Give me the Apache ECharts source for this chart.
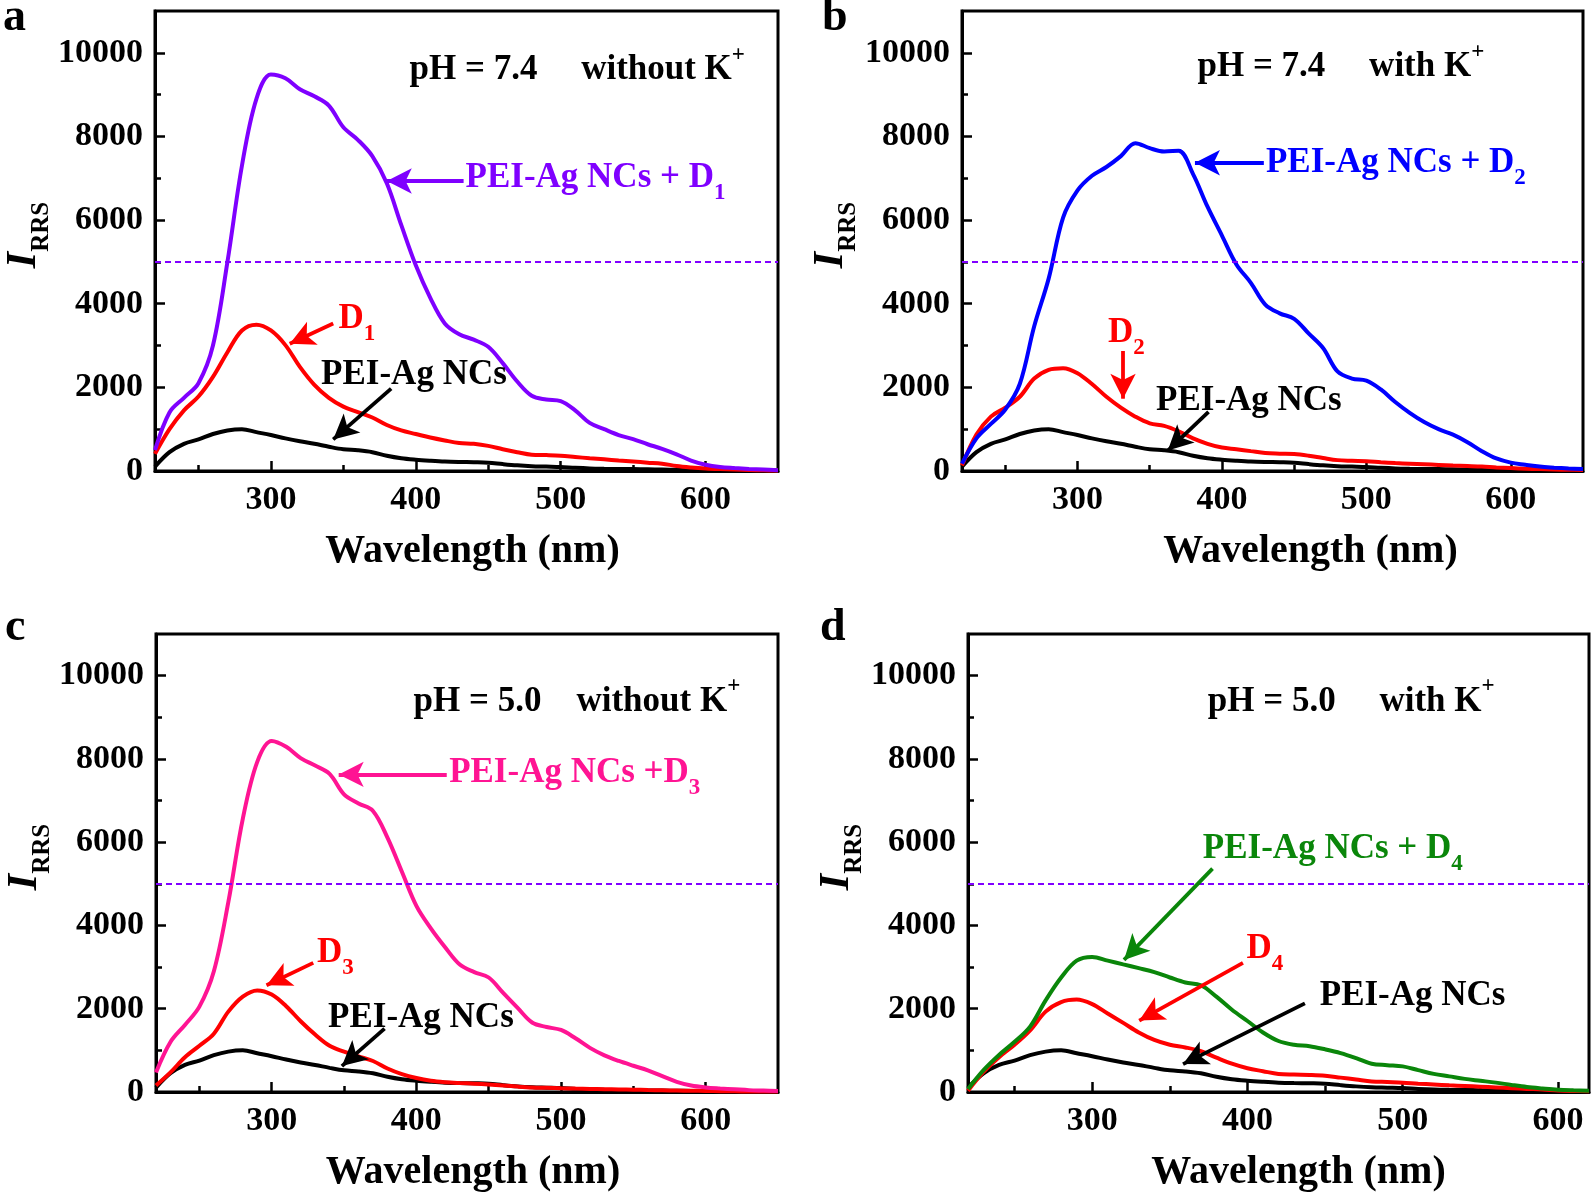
<!DOCTYPE html>
<html><head><meta charset="utf-8">
<script src="https://cdn.jsdelivr.net/npm/echarts@6/dist/echarts.min.js"></script>
<style>html,body{margin:0;padding:0;background:#fff}#c{width:1595px;height:1194px}</style>
</head><body><div id="c"></div>
<script>
// ---------------- DATA ----------------
const wavelength = [220,230,240,250,260,270,280,290,300,310,320,330,340,350,360,370,380,390,400,410,420,430,440,450,460,470,480,490,500,510,520,530,540,550,560,570,580,590,600,610,620,630,640,650];
const wavelengthD = [220,230,240,250,260,270,280,290,300,310,320,330,340,350,360,370,380,390,400,410,420,430,440,450,460,470,480,490,500,510,520,530,540,550,560,570,580,590,600,610,620];

// PEI-Ag NCs alone (black)
const peiAg = [105,450,650,755,885,970,1000,930,860,780,710,650,580,520,495,450,365,305,270,245,225,215,210,200,165,135,115,105,95,75,60,52,47,45,40,35,30,25,20,17,14,12,11,10];
// panel a
const peiD1 = [500,1400,1750,2100,3000,5000,7300,8900,9480,9390,9130,8960,8740,8220,7920,7530,6880,5880,4920,4140,3530,3270,3140,2970,2580,2140,1800,1710,1670,1450,1150,1000,860,760,640,530,400,250,150,95,70,50,35,20];
const d1 = [410,1000,1450,1780,2250,2840,3360,3500,3360,3010,2490,2060,1750,1540,1410,1280,1100,970,885,800,730,670,650,600,520,450,390,380,365,335,305,280,250,225,200,175,120,85,60,45,35,25,15,10];
// panel b
const peiD2 = [175,780,1125,1470,2080,3460,4600,6060,6710,7060,7270,7530,7840,7720,7640,7660,7100,6320,5630,4940,4500,3980,3770,3640,3290,2940,2380,2210,2160,1950,1650,1390,1170,1000,870,690,475,300,200,150,105,80,60,45];
const d2 = [130,870,1300,1515,1775,2210,2420,2460,2340,2080,1775,1515,1300,1140,1080,950,780,650,560,520,475,430,415,405,365,310,260,245,235,210,190,175,160,145,130,118,105,85,70,55,45,35,30,25];
// panel c
const peiD3 = [470,1200,1610,2050,2900,4560,6560,7930,8430,8290,8020,7840,7640,7150,6930,6750,6110,5290,4470,3930,3470,3060,2880,2750,2380,2020,1670,1560,1490,1290,1060,880,745,630,520,380,245,155,110,85,65,45,35,25];
const d3 = [155,470,835,1110,1400,1930,2290,2440,2340,2060,1700,1380,1110,970,855,745,565,430,335,270,235,215,200,180,155,130,110,100,90,82,75,68,62,55,48,42,36,30,25,20,16,13,11,10];
// panel d
const peiD4 = [70,525,890,1205,1570,2200,2750,3155,3245,3155,3065,2975,2880,2750,2630,2565,2290,1975,1705,1430,1225,1135,1100,1025,935,815,680,645,615,525,435,375,315,270,225,170,120,85,55,40,30];
const d4 = [30,480,835,1135,1480,1930,2160,2220,2110,1885,1660,1430,1250,1135,1070,980,825,680,570,500,435,420,410,390,345,300,255,240,225,200,180,160,145,128,110,92,75,60,35,25,20];

const xMajorTicks = [300,400,500,600];
const xMinorTicks = [250,350,450,550];
const yMajorTicks = [0,2000,4000,6000,8000,10000];
const yMinorTicks = [1000,3000,5000,7000,9000];
const thresholdValue = 5000;

// ---------------- STYLE ----------------
const FONT = 'Liberation Serif';
const C = {purple:'#7F00FF', red:'#FF0000', black:'#000000', blue:'#0000FF', pink:'#FF1493', green:'#0A860A', dash:'#8000FF'};

const pair = (xs, ys) => xs.map((x, i) => [x, ys[i]]);

const grids = [
  {left:155, top:11, width:623, height:460},
  {left:962, top:11, width:621, height:460},
  {left:156, top:634, width:622, height:460},
  {left:968, top:634, width:621, height:460}
];
const xMax = [650, 650, 650, 620];
const xNameShift = [12, 76, 12, 40];
const yNameGap = [100, 86, 100, 93];

function richFor(color) {
  const base = {fontFamily: FONT, fontWeight: 'bold', color: color};
  return {
    t: Object.assign({}, base, {fontSize: 35, padding: [0,0,9,0], verticalAlign: 'bottom'}),
    sub: Object.assign({}, base, {fontSize: 23, verticalAlign: 'bottom'}),
    h: Object.assign({}, base, {fontSize: 35, padding: [9,0,0,0], verticalAlign: 'bottom'}),
    sup: Object.assign({}, base, {fontSize: 23, verticalAlign: 'top'})
  };
}
function textPt(coord, text, color) {
  return {
    coord: coord,
    symbol: 'circle', symbolSize: 1, itemStyle: {color: 'rgba(0,0,0,0)'},
    label: {
      show: true, position: [0, 0], align: 'left', verticalAlign: 'middle',
      formatter: () => text, rich: richFor(color)
    }
  };
}
function arrow(from, to, color) {
  return [
    {coord: from, symbol: 'none', lineStyle: {color: color, width: 3.8, type: 'solid'}},
    {coord: to, symbol: 'arrow', symbolSize: [19, 25], lineStyle: {color: color, width: 3.8, type: 'solid'}}
  ];
}
const dashedLine = {yAxis: thresholdValue, symbol: 'none', lineStyle: {color: C.dash, width: 2, type: [6, 4]}};

const xAxes = [], yAxes = [];
grids.forEach((g, i) => {
  xAxes.push({
    type: 'value', gridIndex: i, min: 220, max: xMax[i], position: 'bottom',
    axisLine: {show: true, onZero: false, lineStyle: {color: '#000', width: 3}},
    axisTick: {show: true, inside: true, length: 10, customValues: xMajorTicks, lineStyle: {color: '#000', width: 2.5}},
    axisLabel: {show: true, customValues: xMajorTicks, margin: 12, fontFamily: FONT, fontWeight: 'bold', fontSize: 34, color: '#000', formatter: v => String(v)},
    splitLine: {show: false},
    name: 'Wavelength (nm)', nameLocation: 'middle', nameGap: 61,
    nameTextStyle: {fontFamily: FONT, fontWeight: 'bold', fontSize: 40, color: '#000', padding: [0, 0, 0, xNameShift[i]]}
  });
  xAxes.push({
    type: 'value', gridIndex: i, min: 220, max: xMax[i], position: 'bottom',
    axisLine: {show: false},
    axisTick: {show: true, inside: true, length: 6, customValues: xMinorTicks, lineStyle: {color: '#000', width: 2.5}},
    axisLabel: {show: false}, splitLine: {show: false}
  });
  yAxes.push({
    type: 'value', gridIndex: i, min: 0, max: 11000, position: 'left',
    axisLine: {show: true, onZero: false, lineStyle: {color: '#000', width: 3}},
    axisTick: {show: true, inside: true, length: 10, customValues: yMajorTicks, lineStyle: {color: '#000', width: 2.5}},
    axisLabel: {show: true, customValues: yMajorTicks, margin: 12, fontFamily: FONT, fontWeight: 'bold', fontSize: 34, color: '#000', formatter: v => String(v)},
    splitLine: {show: false},
    name: '{i|I}{s|RRS}', nameLocation: 'middle', nameRotate: 90, nameGap: yNameGap[i],
    nameTextStyle: {
      color: '#000', padding: [0, 0, 0, 12],
      rich: {
        i: {fontFamily: FONT, fontStyle: 'italic', fontWeight: 'bold', fontSize: 42, color: '#000', padding: [0,0,9,0], verticalAlign: 'bottom'},
        s: {fontFamily: FONT, fontWeight: 'bold', fontSize: 25, color: '#000', verticalAlign: 'bottom'}
      }
    }
  });
  yAxes.push({
    type: 'value', gridIndex: i, min: 0, max: 11000, position: 'left',
    axisLine: {show: false},
    axisTick: {show: true, inside: true, length: 6, customValues: yMinorTicks, lineStyle: {color: '#000', width: 2.5}},
    axisLabel: {show: false}, splitLine: {show: false}
  });
});

function line(name, gi, xs, ys, color, extra) {
  return Object.assign({
    type: 'line', name: name, xAxisIndex: 2 * gi, yAxisIndex: 2 * gi,
    data: pair(xs, ys), smooth: 0.35, showSymbol: false, symbol: 'none',
    lineStyle: {color: color, width: 4}, itemStyle: {color: color},
    animation: false, silent: true
  }, extra || {});
}
function annot(points, lines) {
  return {
    markPoint: {silent: true, animation: false, data: points},
    markLine: {silent: true, animation: false, symbol: ['none', 'none'], label: {show: false}, data: lines}
  };
}

const series = [
  // panel a
  line('PEI-Ag NCs', 0, wavelength, peiAg, C.black, annot(
    [textPt([396, 9690], '{h|pH = 7.4     without K}{sup|+}', C.black),
     textPt([335, 2390], '{h|PEI-Ag NCs}', C.black)],
    [dashedLine, arrow([383, 1970], [343, 756], C.black)])),
  line('D1', 0, wavelength, d1, C.red, annot(
    [textPt([347, 3515], '{t|D}{sub|1}', C.red)],
    [arrow([343, 3527], [313, 3042], C.red)])),
  line('PEI-Ag NCs + D1', 0, wavelength, peiD1, C.purple, annot(
    [textPt([434.7, 6890], '{t|PEI-Ag NCs + D}{sub|1}', C.purple)],
    [arrow([433, 6935], [380, 6935], C.purple)])),
  // panel b
  line('PEI-Ag NCs', 1, wavelength, peiAg, C.black, annot(
    [textPt([383.4, 9757], '{h|pH = 7.4     with K}{sup|+}', C.black),
     textPt([354.7, 1777], '{h|PEI-Ag NCs}', C.black)],
    [dashedLine, arrow([390.7, 1411], [362.5, 488], C.black)])),
  line('D2', 1, wavelength, d2, C.red, annot(
    [textPt([321.5, 3190], '{t|D}{sub|2}', C.red)],
    [arrow([331.5, 2870], [331.5, 1729], C.red)])),
  line('PEI-Ag NCs + D2', 1, wavelength, peiD2, C.blue, annot(
    [textPt([430.8, 7253], '{t|PEI-Ag NCs + D}{sub|2}', C.blue)],
    [arrow([429, 7372], [381.3, 7372], C.blue)])),
  // panel c
  line('PEI-Ag NCs', 2, wavelength, peiAg, C.black, annot(
    [textPt([398.4, 9474], '{h|pH = 5.0    without K}{sup|+}', C.black),
     textPt([339.3, 1884], '{h|PEI-Ag NCs}', C.black)],
    [dashedLine, arrow([378, 1521], [348.5, 622], C.black)])),
  line('D3', 2, wavelength, d3, C.red, annot(
    [textPt([331.6, 3228], '{t|D}{sub|3}', C.red)],
    [arrow([328.7, 3101], [296.4, 2566], C.red)])),
  line('PEI-Ag NCs + D3', 2, wavelength, peiD3, C.pink, annot(
    [textPt([423, 7533], '{t|PEI-Ag NCs +D}{sub|3}', C.pink)],
    [arrow([421, 7628], [346.3, 7628], C.pink)])),
  // panel d
  line('PEI-Ag NCs', 3, wavelengthD, peiAg.slice(0, wavelengthD.length), C.black, annot(
    [textPt([374.8, 9474], '{h|pH = 5.0     with K}{sup|+}', C.black),
     textPt([446.9, 2396], '{h|PEI-Ag NCs}', C.black)],
    [dashedLine, arrow([437, 2128], [358.5, 670], C.black)])),
  line('D4', 3, wavelengthD, d4, C.red, annot(
    [textPt([399.7, 3324], '{t|D}{sub|4}', C.red)],
    [arrow([397.1, 3102], [330.3, 1715], C.red)])),
  line('PEI-Ag NCs + D4', 3, wavelengthD, peiD4, C.green, annot(
    [textPt([371.6, 5706], '{t|PEI-Ag NCs + D}{sub|4}', C.green)],
    [arrow([377.5, 5364], [320.5, 3173], C.green)]))
];

const letterFont = 'bold 46px "Liberation Serif"';
const graphic = [
  {type: 'text', x: 3, y: 18, style: {text: 'a', font: letterFont, fill: '#000', verticalAlign: 'middle'}},
  {type: 'text', x: 822, y: 18, style: {text: 'b', font: letterFont, fill: '#000', verticalAlign: 'middle'}},
  {type: 'text', x: 5, y: 628, style: {text: 'c', font: letterFont, fill: '#000', verticalAlign: 'middle'}},
  {type: 'text', x: 820, y: 628, style: {text: 'd', font: letterFont, fill: '#000', verticalAlign: 'middle'}}
];

const chart = echarts.init(document.getElementById('c'), null, {renderer: 'canvas'});
chart.setOption({
  animation: false,
  backgroundColor: '#fff',
  grid: grids.map(g => Object.assign({show: true, borderColor: '#000', borderWidth: 3, backgroundColor: 'transparent', containLabel: false}, g)),
  xAxis: xAxes,
  yAxis: yAxes,
  series: series,
  graphic: graphic
});
</script>
</body></html>
